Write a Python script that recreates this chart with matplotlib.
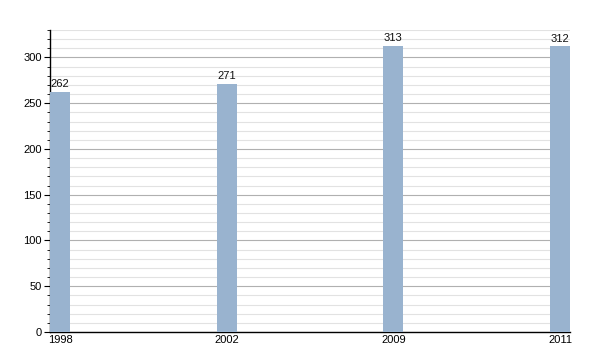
import matplotlib
matplotlib.use("Agg")
import matplotlib.pyplot as plt
from matplotlib.ticker import MultipleLocator

years = ["1998", "2002", "2009", "2011"]
values = [262, 271, 313, 312]

plt.rcParams['font.family'] = ['Liberation Sans', 'DejaVu Sans']

fig = plt.figure(figsize=(6, 3.5), dpi=100)
ax = fig.add_axes([50/600, 18/350, 520/600, 302/350])

x = range(len(years))
bars = ax.bar(x, values, width=0.12, color='#99b3cf', zorder=3)
for xi, v in zip(x, values):
    ax.text(xi, v + 3, str(v), ha='center', va='bottom', fontsize=8, color='#111111', zorder=4)

ax.set_xlim(-0.06, 3.06)
ax.set_ylim(0, 330)
ax.set_xticks(list(x))
ax.set_xticklabels(years)
ax.yaxis.set_major_locator(MultipleLocator(50))
ax.yaxis.set_minor_locator(MultipleLocator(10))
ax.grid(which='major', axis='y', color='#b0b0b0', linewidth=0.8, zorder=0)
ax.grid(which='minor', axis='y', color='#e2e2e2', linewidth=0.8, zorder=0)
for s in ['top', 'right']:
    ax.spines[s].set_visible(False)
ax.spines['left'].set_linewidth(1)
ax.spines['bottom'].set_linewidth(1)
ax.tick_params(axis='y', which='major', length=4, labelsize=8, pad=2)
ax.tick_params(axis='y', which='minor', length=2)
ax.tick_params(axis='x', length=0, labelsize=8, pad=2)

fig.savefig("out.png", dpi=100)
